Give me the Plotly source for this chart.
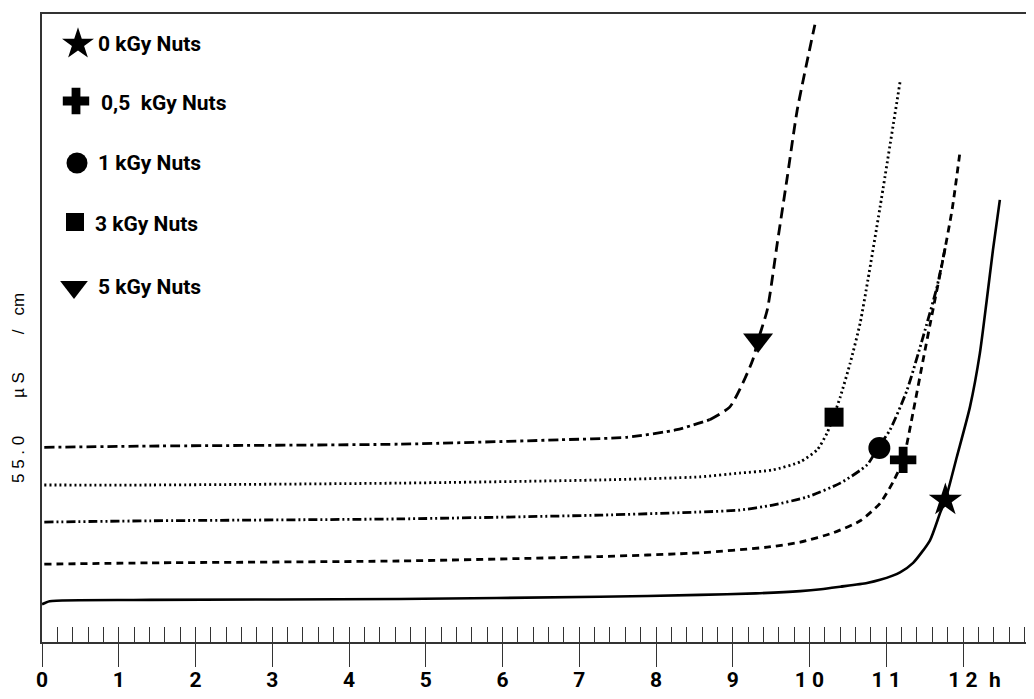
import plotly.graph_objects as go

# ---------------- data (hours, conductivity in arbitrary plot units) ----------------
labels = ["0 kGy Nuts", "0,5\u00a0\u00a0kGy Nuts", "1 kGy Nuts", "3 kGy Nuts", "5 kGy Nuts"]

x_0 = [0.00, 0.10, 1.41, 4.66, 7.27, 8.57, 9.30, 9.88, 10.15, 10.40, 10.75, 10.92, 11.18, 11.35, 11.57, 11.70, 11.77, 11.92, 12.09, 12.22, 12.31, 12.39, 12.48]
y_0 = [6.0, 6.5, 6.7, 6.85, 7.2, 7.5, 7.75, 8.1, 8.4, 8.8, 9.4, 9.9, 11.1, 12.6, 16.2, 20.5, 22.6, 29.5, 37.4, 46.0, 54.5, 62.4, 70.4]

x_05 = [0.03, 1.41, 4.66, 7.27, 8.57, 9.45, 9.88, 10.31, 10.66, 10.92, 11.09, 11.22, 11.35, 11.48, 11.61, 11.74, 11.86, 11.96]
y_05 = [12.4, 12.6, 12.9, 13.6, 14.2, 15.1, 15.9, 17.4, 19.3, 22.1, 25.5, 29.0, 36.6, 44.9, 53.0, 61.0, 69.0, 78.0]

x_1 = [0.03, 1.41, 4.66, 7.27, 8.57, 9.09, 9.52, 9.97, 10.40, 10.75, 10.89, 11.05, 11.27, 11.48, 11.66, 11.77]
y_1 = [19.1, 19.3, 19.6, 20.2, 20.7, 21.0, 21.8, 23.1, 25.3, 28.2, 30.9, 33.8, 40.1, 48.6, 56.5, 62.9]

x_3 = [0.03, 1.41, 4.66, 7.27, 8.57, 9.09, 9.52, 9.88, 10.10, 10.23, 10.31, 10.40, 10.53, 10.66, 10.76, 10.92, 11.18]
y_3 = [25.0, 25.0, 25.3, 25.8, 26.3, 26.9, 27.4, 28.7, 30.6, 33.3, 35.8, 39.0, 44.4, 50.8, 57.6, 69.3, 89.2]

x_5 = [0.03, 1.41, 4.66, 6.75, 7.62, 8.27, 8.70, 8.96, 9.13, 9.26, 9.33, 9.45, 9.58, 9.71, 9.84, 10.07]
y_5 = [31.0, 31.2, 31.5, 32.2, 32.6, 33.8, 35.4, 37.4, 41.2, 44.9, 48.1, 52.9, 63.5, 74.0, 84.7, 98.3]

# marker positions on each curve
mark_x = [11.77, 11.22, 10.91, 10.32, 9.33]
mark_y = [22.6, 29.0, 30.9, 35.8, 48.1]
symbols = ["star", "cross", "circle", "square", "triangle-down"]

tick_vals = list(range(13))
tick_text = ["0", "1", "2", "3", "4", "5", "6", "7", "8", "9", "1 0", "1 1", "1 2"]

# ---------------- styling / layout constants ----------------
# the page body has an 8px margin, so the figure is drawn at (8, 8)
OFF = 8
W, H = 1034 - OFF, 699 - OFF
ML, MR, MT, MB = 42 - OFF, 0, 14 - OFF, 57
X_MAX = 12.925
Y_MAX = 100
BOLD_FONT = "Roboto, Liberation Sans, Arial, sans-serif"
INK = "#000000"
AXC = "#333333"
mark_sizes = [25, 22, 22, 19, 26]

PW = 992.0   # plot width in px
PH = 628.0   # plot height in px


def px_to_paper(px, py):
    return (px - 42) / PW, (642 - py) / PH


fig = go.Figure()

curves = [
    (x_0, y_0, "solid", 2.6),
    (x_05, y_05, "7px,5px", 2.8),
    (x_1, y_1, "9px,3px,2px,3px,2px,3px", 2.8),
    (x_3, y_3, "2px,3px", 2.8),
]
for xs, ys, dash, w in curves:
    fig.add_trace(go.Scatter(x=xs, y=ys, mode="lines", showlegend=False, hoverinfo="skip",
                             line=dict(color=INK, width=w, dash=dash, shape="spline", smoothing=0.6)))

# 5 kGy: dash-dot on the plateau, long dashes on the rise
split = 6
fig.add_trace(go.Scatter(x=x_5[:split + 1], y=y_5[:split + 1], mode="lines", showlegend=False, hoverinfo="skip",
                         line=dict(color=INK, width=2.8, dash="10px,4px,3px,4px", shape="spline", smoothing=0.6)))
fig.add_trace(go.Scatter(x=x_5[split:], y=y_5[split:], mode="lines", showlegend=False, hoverinfo="skip",
                         line=dict(color=INK, width=2.8, dash="11px,6px", shape="spline", smoothing=0.6)))

# markers on curves
for mx, my, sym, sz in zip(mark_x, mark_y, symbols, mark_sizes):
    fig.add_trace(go.Scatter(x=[mx], y=[my], mode="markers", showlegend=False, hoverinfo="skip",
                             marker=dict(symbol=sym, size=sz, color=INK, line=dict(width=0))))

# helper trace so the minor-tick axis is drawn
fig.add_trace(go.Scatter(x=[0, X_MAX], y=[None, None], xaxis="x2", mode="lines",
                         showlegend=False, hoverinfo="skip"))

# custom legend (markers + text), placed in paper coordinates
leg_mark_px = [(78, 44), (76, 101), (77, 163), (75, 222), (74, 287)]
leg_text_px = [(96, 44), (99, 103), (96, 163), (93, 224), (96, 287)]
leg_sizes = [24, 22, 21, 18, 24]
for i, (lab, sym) in enumerate(zip(labels, symbols)):
    mx, my = px_to_paper(*leg_mark_px[i])
    fig.add_trace(go.Scatter(x=[mx], y=[my], xaxis="x3", yaxis="y3", mode="markers", showlegend=False,
                             hoverinfo="skip",
                             marker=dict(symbol=sym, size=leg_sizes[i], color=INK, line=dict(width=0))))
    tx, ty = px_to_paper(*leg_text_px[i])
    fig.add_annotation(xref="paper", yref="paper", x=tx, y=ty, text="<b>" + lab + "</b>", showarrow=False,
                       xanchor="left", yanchor="middle", font=dict(family=BOLD_FONT, size=21, color=INK))

# axis unit label "h"
hx, hy = px_to_paper(995, 680)
fig.add_annotation(xref="paper", yref="paper", x=hx, y=hy, text="<b>h</b>", showarrow=False,
                   xanchor="center", yanchor="middle", font=dict(family=BOLD_FONT, size=21, color=INK))

# y-axis label
nb = "\u00a0"
ylab = "5" + nb + "5" + nb + "." + nb + "0" + nb * 8 + "µ" + nb + "S" + nb * 8 + "/" + nb * 3 + "cm"
lx, ly = px_to_paper(18, 388)
fig.add_annotation(xref="paper", yref="paper", x=lx, y=ly,
                   text=ylab, textangle=-90, showarrow=False, xanchor="center", yanchor="middle",
                   font=dict(family="Liberation Sans, Arial, sans-serif", size=17, color=INK))

fig.update_layout(
    width=W, height=H,
    margin=dict(l=ML, r=MR, t=MT, b=MB, pad=0),
    paper_bgcolor="white", plot_bgcolor="white",
    showlegend=False,
    xaxis=dict(range=[0, X_MAX], showgrid=False, zeroline=False,
               showline=True, linecolor=AXC, linewidth=1.5, mirror=True,
               ticks="outside", ticklen=23, tickwidth=1.3, tickcolor=AXC,
               tickvals=tick_vals, ticktext=tick_text, ticklabelstandoff=-5,
               tickfont=dict(family=BOLD_FONT, size=21, color=INK, weight="bold")),
    xaxis2=dict(range=[0, X_MAX], overlaying="x", anchor="y", side="bottom",
                showgrid=False, zeroline=False, showline=False,
                ticks="inside", ticklen=15, tickwidth=1.3, tickcolor=AXC,
                tick0=0, dtick=0.2, showticklabels=False),
    yaxis=dict(range=[0, Y_MAX], showgrid=False, zeroline=False,
               showline=True, linecolor=AXC, linewidth=1.5,
               ticks="", showticklabels=False),
    xaxis3=dict(domain=[0, 1], range=[0, 1], anchor="y3", overlaying="x", visible=False),
    yaxis3=dict(domain=[0, 1], range=[0, 1], anchor="x3", overlaying="y", visible=False),
)

fig.write_html("out.html")
